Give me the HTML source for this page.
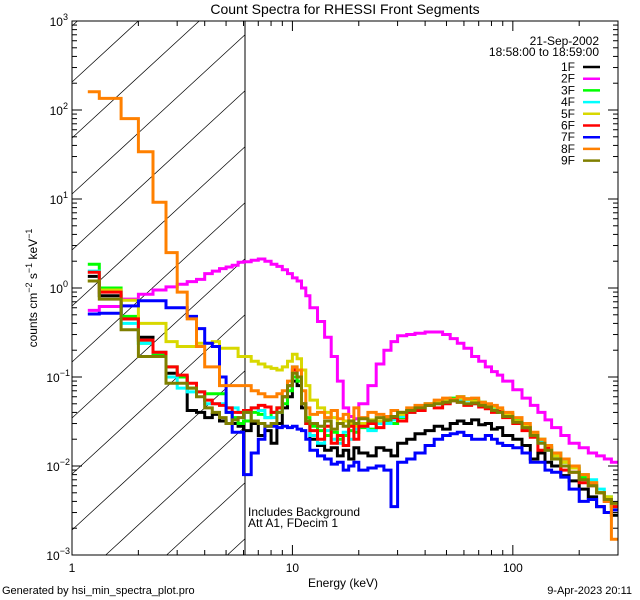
<!DOCTYPE html>
<html><head><meta charset="utf-8"><style>
html,body{margin:0;padding:0;background:#fff;width:640px;height:600px;overflow:hidden;}
svg{display:block;font-family:"Liberation Sans",sans-serif;}
</style></head><body>
<svg id="chart" width="640" height="600" viewBox="0 0 640 600">
<rect width="640" height="600" fill="#fff"/>
<text x="345" y="14" font-size="14" text-anchor="middle">Count Spectra for RHESSI Front Segments</text>
<defs><clipPath id="pclip"><rect x="72" y="21" width="546" height="534"/></clipPath></defs>
<g id="hatch"></g>
<line x1="245" y1="21" x2="245" y2="555" stroke="#000" stroke-width="1"/>
<g id="series" clip-path="url(#pclip)"></g>
<g id="axes"></g>
<text x="343" y="587" font-size="12" text-anchor="middle">Energy (keV)</text>
<text transform="translate(37,288) rotate(-90)" font-size="12" text-anchor="middle">counts cm<tspan dy="-5" font-size="9">−2</tspan><tspan dy="5"> s</tspan><tspan dy="-5" font-size="9">−1</tspan><tspan dy="5"> keV</tspan><tspan dy="-5" font-size="9">−1</tspan></text>
<text x="599" y="45" font-size="12" text-anchor="end">21-Sep-2002</text>
<text x="599" y="56" font-size="12" text-anchor="end">18:58:00 to 18:59:00</text>
<g id="legend"></g>
<text x="248" y="516" font-size="12">Includes Background</text>
<text x="248" y="527" font-size="12">Att A1, FDecim 1</text>
<text x="2" y="594" font-size="11">Generated by hsi_min_spectra_plot.pro</text>
<text x="632" y="594" font-size="11" text-anchor="end">9-Apr-2023 20:11</text>
</svg>
<script>
const edges=[1.18,1.33,1.67,2.0,2.33,2.67,3.0,3.33,3.67,4.0,4.33,4.67,5.0,5.33,5.67,6.0,6.5,7,7.5,8,8.5,9,9.5,10,10.5,11,11.5,12,13,14,15,16,17,18,19,20,22,24,26,28,30,33,36,40,44,48,52,56,60,65,70,75,80,85,90,100,110,120,130,140,150,165,180,200,220,240,260,280,300];
const names=["1F","2F","3F","4F","5F","6F","7F","8F","9F"];
const colors=["#000000","#ff00ff","#00ff00","#00ffff","#d8d800","#ff0000","#0000ff","#ff8000","#7f7f00"];
const s1F=[1.35,0.82,0.45,0.28,0.17,0.11,0.1,0.042,0.04,0.035,0.038,0.032,0.03,0.03,0.028,
0.025,0.03,0.022,0.025,0.018,0.03,0.045,0.06,0.09,0.08,0.045,0.03,
0.02,0.017,0.015,0.016,0.013,0.015,0.012,0.016,0.014,0.013,0.016,0.015,0.013,0.018,0.02,0.023,0.025,0.028,0.026,0.03,0.032,0.03,0.033,0.029,0.03,0.026,0.027,0.022,0.02,0.017,0.012,0.014,0.011,0.01,0.0078,0.0068,0.0055,0.0045,0.0035,0.003,0.0028];
const s2F=[0.56,0.62,0.75,0.85,0.95,1.03,1.1,1.18,1.25,1.45,
1.55,1.65,1.72,1.8,1.95,1.97,2.05,2.12,2.0,1.85,
1.75,1.6,1.45,1.3,1.2,1.0,0.82,0.6,0.42,0.28,
0.17,0.09,0.045,0.036,0.034,0.05,0.08,0.14,0.2,0.25,
0.29,0.3,0.31,0.32,0.32,0.3,0.27,0.24,0.21,0.17,
0.15,0.13,0.115,0.105,0.09,0.072,0.058,0.048,0.04,0.033,
0.027,0.022,0.018,0.016,0.014,0.013,0.012,0.011];
const s3F=[1.85,1.0,0.48,0.24,0.18,0.13,0.1,0.075,0.068,0.065,0.065,0.065,0.04,0.035,0.03,
0.032,0.04,0.038,0.035,0.04,0.045,0.05,0.07,0.1,0.09,0.05,0.035,
0.028,0.025,0.022,0.024,0.02,0.022,0.025,0.024,0.027,0.026,0.03,0.032,0.03,0.035,0.04,0.043,0.048,0.052,0.055,0.058,0.06,0.057,0.055,0.052,0.048,0.045,0.042,0.038,0.033,0.027,0.022,0.02,0.017,0.014,0.011,0.0095,0.0075,0.0065,0.005,0.0045,0.0035];
const s4F=[1.55,0.92,0.4,0.24,0.19,0.1,0.075,0.068,0.068,0.05,0.05,0.05,0.045,0.045,0.04,
0.04,0.045,0.042,0.035,0.035,0.04,0.06,0.08,0.13,0.1,0.05,0.03,
0.022,0.018,0.025,0.02,0.018,0.024,0.02,0.026,0.028,0.025,0.03,0.03,0.033,0.036,0.04,0.045,0.05,0.05,0.052,0.055,0.054,0.055,0.05,0.05,0.046,0.044,0.04,0.036,0.032,0.026,0.022,0.019,0.015,0.013,0.012,0.01,0.008,0.007,0.0055,0.0045,0.0035];
const s5F=[1.2,0.95,0.73,0.4,0.4,0.25,0.22,0.22,0.24,0.24,0.25,0.21,0.21,0.21,0.17,
0.17,0.15,0.14,0.13,0.125,0.12,0.13,0.15,0.18,0.16,0.12,0.08,
0.055,0.045,0.04,0.035,0.03,0.032,0.03,0.028,0.03,0.033,0.032,0.035,0.036,0.038,0.042,0.045,0.05,0.052,0.056,0.055,0.058,0.056,0.053,0.05,0.048,0.046,0.042,0.038,0.032,0.028,0.023,0.02,0.016,0.013,0.011,0.0095,0.008,0.0065,0.005,0.0045,0.0035];
const s6F=[1.5,0.9,0.45,0.26,0.19,0.13,0.105,0.085,0.068,0.055,0.05,0.048,0.045,0.04,0.04,
0.042,0.045,0.048,0.046,0.04,0.045,0.06,0.08,0.12,0.1,0.05,0.03,
0.025,0.02,0.028,0.018,0.022,0.017,0.028,0.02,0.028,0.03,0.027,0.033,0.035,0.032,0.04,0.042,0.048,0.045,0.05,0.054,0.052,0.048,0.05,0.046,0.044,0.04,0.041,0.035,0.03,0.025,0.021,0.015,0.016,0.012,0.009,0.0085,0.0065,0.006,0.005,0.004,0.0035];
const s7F=[0.51,0.52,0.63,0.72,0.72,0.6,0.6,0.48,0.35,0.24,0.22,0.1,0.04,0.024,0.024,
0.008,0.014,0.02,0.028,0.028,0.027,0.028,0.027,0.028,0.026,0.025,0.02,
0.015,0.013,0.012,0.0105,0.011,0.009,0.01,0.011,0.009,0.0095,0.01,0.009,0.0035,0.011,0.012,0.014,0.017,0.02,0.022,0.023,0.024,0.022,0.02,0.02,0.022,0.02,0.018,0.017,0.016,0.014,0.011,0.011,0.009,0.0085,0.0075,0.0055,0.004,0.0042,0.0035,0.003,0.0032];
const s8F=[160,135,80,34,9.2,2.5,0.9,0.45,0.22,0.13,0.13,0.08,0.08,0.08,0.08,
0.08,0.07,0.065,0.06,0.06,0.065,0.07,0.09,0.13,0.12,0.07,0.045,
0.038,0.04,0.035,0.042,0.034,0.038,0.032,0.045,0.035,0.04,0.038,0.036,0.042,0.04,0.045,0.048,0.05,0.055,0.058,0.056,0.06,0.057,0.058,0.052,0.05,0.048,0.045,0.04,0.035,0.03,0.024,0.02,0.017,0.014,0.012,0.01,0.008,0.0065,0.005,0.004,0.0015];
const s9F=[1.2,0.75,0.34,0.17,0.17,0.085,0.085,0.075,0.06,0.045,0.04,0.035,0.03,0.033,0.035,
0.04,0.032,0.03,0.028,0.03,0.04,0.06,0.08,0.11,0.1,0.05,0.032,
0.03,0.028,0.032,0.026,0.03,0.028,0.032,0.03,0.034,0.032,0.035,0.033,0.036,0.04,0.042,0.045,0.048,0.05,0.052,0.054,0.052,0.05,0.051,0.048,0.046,0.042,0.04,0.036,0.031,0.027,0.022,0.018,0.015,0.012,0.01,0.0085,0.007,0.006,0.005,0.0042,0.0038];
const seriesData=[s1F,s2F,s3F,s4F,s5F,s6F,s7F,s8F,s9F];
const xTickLabels=["1","10","100"];
const yExponents=["−3","−2","−1","0","1","2","3"];

const NS="http://www.w3.org/2000/svg";
const X0=72,X1=618,Y0=555,Y1=21;
const xmin=0,xmax=Math.log10(300),ymin=-3,ymax=3;
function xs(e){return X0+(Math.log10(e)-xmin)/(xmax-xmin)*(X1-X0);}
function ys(v){return Y0-(Math.log10(v)-ymin)/(ymax-ymin)*(Y0-Y1);}
function mk(tag,attrs,parent){const el=document.createElementNS(NS,tag);for(const k in attrs)el.setAttribute(k,attrs[k]);parent.appendChild(el);return el;}

const hatch=document.getElementById('hatch');
const HS=0.92, HX1=245;
for(let k=-3;k<16;k++){
  const y0=82+56*(k-3);
  let xa=Math.max(X0, X0+(y0-Y0)/HS);
  let xb=Math.min(HX1, X0+(y0-Y1)/HS);
  if(xb<=xa)continue;
  const l=mk('line',{x1:xa.toFixed(1),y1:(y0-HS*(xa-X0)).toFixed(1),x2:xb.toFixed(1),y2:(y0-HS*(xb-X0)).toFixed(1),stroke:'#000','stroke-width':0.7},hatch);
  
  
}

const sg=document.getElementById('series');
seriesData.forEach((vals,i)=>{
  const n=Math.min(vals.length,edges.length-1);
  let d='M'+xs(edges[0]).toFixed(1)+' '+ys(vals[0]).toFixed(1);
  for(let j=0;j<n;j++){
    if(j>0)d+=' V'+ys(vals[j]).toFixed(1);
    d+=' H'+xs(edges[j+1]).toFixed(1);
  }
  const p=mk('path',{d:d,fill:'none',stroke:colors[i],'stroke-width':3,'stroke-linejoin':'miter'},sg);
  
  
});

const ax=document.getElementById('axes');
const fr=mk('rect',{x:X0,y:Y1,width:X1-X0,height:Y0-Y1,fill:'none',stroke:'#000','stroke-width':1},ax);


for(let dec=0;dec<3;dec++){
  for(let m=1;m<10;m++){
    const e=m*Math.pow(10,dec); if(e>300)break;
    const x=xs(e), len=m===1?10:5;
    const t1=mk('line',{x1:x,y1:Y0,x2:x,y2:Y0-len,stroke:'#000'},ax);
    
    
    const t2=mk('line',{x1:x,y1:Y1,x2:x,y2:Y1+len,stroke:'#000'},ax);
    
    
  }
}
xTickLabels.forEach((lab,i)=>{
  const t=mk('text',{x:xs(Math.pow(10,i)),y:Y0+17,'font-size':12,'text-anchor':'middle'},ax);
  t.textContent=lab;
  
  
});
for(let dec=-3;dec<=3;dec++){
  for(let m=1;m<10;m++){
    if(dec===3&&m>1)break;
    const y=ys(m*Math.pow(10,dec)), len=m===1?10:5;
    const t1=mk('line',{x1:X0,y1:y,x2:X0+len,y2:y,stroke:'#000'},ax);
    
    
    const t2=mk('line',{x1:X1,y1:y,x2:X1-len,y2:y,stroke:'#000'},ax);
    
    
  }
}
yExponents.forEach((ex,i)=>{
  const y=ys(Math.pow(10,i-3));
  const t=mk('text',{x:64,y:y+5,'font-size':12,'text-anchor':'end'},ax);
  
  
  const b=document.createElementNS(NS,'tspan');b.textContent='10';t.appendChild(b);
  const s=document.createElementNS(NS,'tspan');s.setAttribute('dy','-6');s.setAttribute('font-size','9');s.textContent=ex;t.appendChild(s);
  t.setAttribute('x', ex.length>1?70:68);
});

const lg=document.getElementById('legend');
names.forEach((nm,i)=>{
  const y=67+11.7*i;
  const t=mk('text',{x:575,y:y+4,'font-size':12,'text-anchor':'end'},lg);
  t.textContent=nm;
  
  
  const l=mk('line',{x1:583,y1:y,x2:600,y2:y,stroke:colors[i],'stroke-width':2.5},lg);
  
  
});
</script>
</body></html>
